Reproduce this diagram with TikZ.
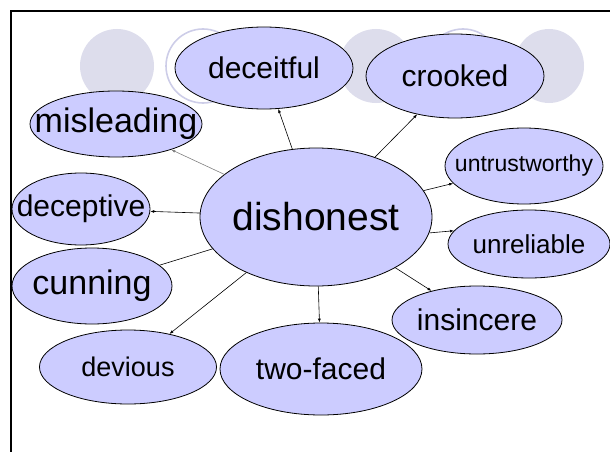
\documentclass[tikz,border=0pt]{standalone}
\usepackage{fontspec}
\setmainfont{Liberation Sans}
\usetikzlibrary{shapes.geometric,arrows.meta}
\definecolor{ellfill}{RGB}{204,204,255}
\definecolor{bggray}{RGB}{221,221,236}
\definecolor{bgring}{RGB}{205,205,232}
\tikzset{
  word/.style={ellipse, draw=black, line width=0.8pt, fill=ellfill, inner sep=0pt},
  wtext/.style={text=black, inner sep=0pt},
  link/.style={line width=0.6pt, -{Latex[length=4pt,width=3pt]}},
  bgdot/.style={fill=bggray, draw=none},
  bgcirc/.style={draw=bgring, line width=1.6pt, fill=white}
}
\newcommand{\fs}[1]{\fontsize{#1}{#1}\selectfont}
\begin{document}
\begin{tikzpicture}[x=1pt,y=-1pt]
\useasboundingbox (0,0) rectangle (610,452);
% background frame
\draw[line width=2pt] (11,460) -- (11,11) -- (620,11);
% decorative circles
\fill[bgdot] (117,66) circle (37);
\draw[bgcirc] (203,66) circle (37);
\fill[bgdot] (290,66) circle (37);
\fill[bgdot] (376,66) circle (37);
\draw[bgcirc] (463,66) circle (37);
\fill[bgdot] (549,66) ellipse (35 and 37);
% ellipses
\node[word, minimum width=232, minimum height=138] (dis) at (316,217) {};
\node[word, minimum width=178, minimum height=82] (dec) at (264,68) {};
\node[word, minimum width=178, minimum height=84] (cro) at (455,76) {};
\node[word, minimum width=172, minimum height=66] (mis) at (116,124) {};
\node[word, minimum width=158, minimum height=76] (unt) at (524,166) {};
\node[word, minimum width=138, minimum height=72] (dcp) at (81,209) {};
\node[word, minimum width=162, minimum height=68] (unr) at (529,244) {};
\node[word, minimum width=160, minimum height=76] (cun) at (92,286) {};
\node[word, minimum width=170, minimum height=68] (ins) at (477,320) {};
\node[word, minimum width=177, minimum height=74] (dev) at (128,367) {};
\node[word, minimum width=202, minimum height=92] (two) at (321,369) {};
% texts
\node[wtext, font=\fs{39}] (disT) at (dis) {dishonest};
\node[wtext, font=\fs{30}] (decT) at (dec) {deceitful};
\node[wtext, font=\fs{30}] (croT) at (cro) {crooked};
\node[wtext, font=\fs{34}] (misT) at (mis) {misleading};
\node[wtext, font=\fs{23}] (untT) at (unt) {untrustworthy};
\node[wtext, font=\fs{30}] (dcpT) at (dcp) {deceptive};
\node[wtext, font=\fs{26}] (unrT) at (unr) {unreliable};
\node[wtext, font=\fs{34}] (cunT) at (cun) {cunning};
\node[wtext, font=\fs{30}] (insT) at (ins) {insincere};
\node[wtext, font=\fs{27}] (devT) at (dev) {devious};
\node[wtext, font=\fs{30}] (twoT) at (two) {two-faced};
% connectors
\draw[link, draw=gray] (dis) -- (mis);
\draw[link] (dis) -- (dec);
\draw[link] (dis) -- (cro);
\draw[link] (dis) -- (unt);
\draw[link] (dis.-8) -- (unr.170);
\draw[link] (dis) -- (ins);
\draw[link] (dis) -- (two);
\draw[link] (dis) -- (dev);
\draw[line width=0.6pt] (dis) -- (cun);
\draw[link] (dis) -- (dcp);
\end{tikzpicture}
\end{document}
